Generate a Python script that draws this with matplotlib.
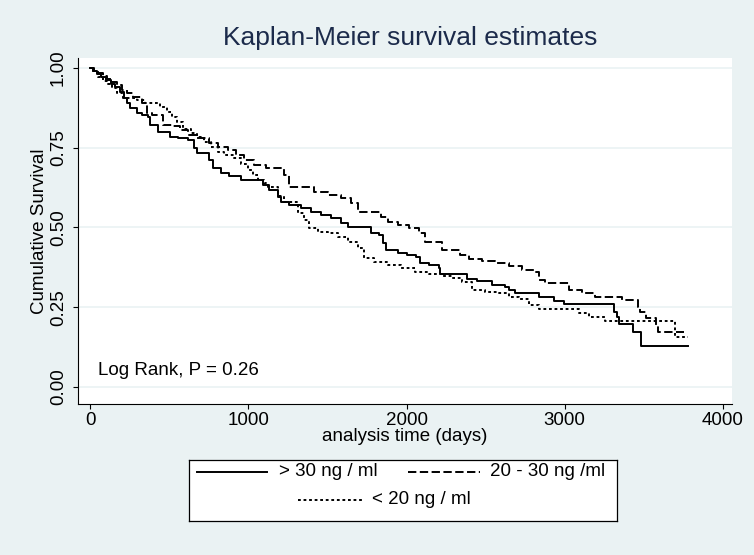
import numpy as np
import matplotlib
matplotlib.use("Agg")
import matplotlib.pyplot as plt
from matplotlib.lines import Line2D

plt.rcParams['font.family'] = ['Liberation Sans', 'DejaVu Sans']
plt.rcParams['lines.scale_dashes'] = False

# Kaplan-Meier steps: (time in days, survival after the step)
t_hi = [0, 20, 45, 70, 100, 130, 160, 190, 215, 235, 254, 300, 330, 368, 381, 432, 508, 559,
        622, 654, 679, 749, 775, 825, 876, 952, 1092, 1130, 1187, 1206, 1257, 1333, 1397,
        1460, 1524, 1587, 1632, 1778, 1829, 1854, 1873, 1949, 2000, 2063, 2083, 2140, 2203,
        2210, 2381, 2444, 2540, 2622, 2648, 2686, 2838, 2933, 2997, 3314, 3333, 3346, 3429,
        3479, 3780]
s_hi = [1.0, 0.99, 0.98, 0.972, 0.962, 0.95, 0.94, 0.925, 0.905, 0.89, 0.875, 0.86, 0.853,
        0.846, 0.82, 0.80, 0.785, 0.78, 0.774, 0.75, 0.733, 0.71, 0.686, 0.67, 0.66, 0.65,
        0.633, 0.617, 0.596, 0.58, 0.57, 0.56, 0.55, 0.54, 0.53, 0.514, 0.50, 0.483, 0.476,
        0.45, 0.43, 0.42, 0.414, 0.407, 0.39, 0.382, 0.373, 0.354, 0.339, 0.332, 0.32, 0.313,
        0.304, 0.295, 0.282, 0.27, 0.26, 0.235, 0.22, 0.197, 0.172, 0.13, 0.13]

t_mid = [0, 25, 50, 80, 110, 140, 170, 200, 235, 270, 330, 360, 390, 463, 527, 571, 616, 679,
         749, 806, 870, 921, 971, 1035, 1111, 1225, 1257, 1416, 1505, 1587, 1651, 1695, 1841,
         1886, 1949, 2013, 2076, 2114, 2222, 2337, 2394, 2476, 2559, 2648, 2730, 2813, 2838,
         2876, 3029, 3111, 3194, 3365, 3460, 3473, 3511, 3575, 3587, 3755]
s_mid = [1.0, 0.99, 0.985, 0.975, 0.965, 0.955, 0.945, 0.93, 0.92, 0.91, 0.89, 0.86, 0.853,
         0.82, 0.818, 0.806, 0.79, 0.78, 0.765, 0.752, 0.743, 0.727, 0.71, 0.696, 0.686, 0.665,
         0.627, 0.611, 0.602, 0.592, 0.577, 0.55, 0.533, 0.517, 0.508, 0.498, 0.483, 0.455,
         0.43, 0.414, 0.40, 0.395, 0.389, 0.38, 0.367, 0.36, 0.335, 0.326, 0.304, 0.295, 0.282,
         0.273, 0.25, 0.235, 0.216, 0.194, 0.172, 0.172]

t_lo = [0, 20, 50, 80, 110, 140, 170, 210, 298, 349, 444, 489, 521, 552, 590, 635, 679, 718,
        762, 806, 845, 908, 952, 997, 1029, 1060, 1098, 1124, 1187, 1225, 1314, 1352, 1384,
        1441, 1505, 1568, 1632, 1695, 1733, 1797, 1886, 1968, 2051, 2140, 2222, 2286, 2349,
        2413, 2495, 2584, 2648, 2711, 2775, 2838, 3092, 3156, 3257, 3695, 3780]
s_lo = [1.0, 0.99, 0.97, 0.96, 0.95, 0.937, 0.92, 0.905, 0.90, 0.89, 0.878, 0.862, 0.846,
        0.83, 0.81, 0.796, 0.784, 0.768, 0.752, 0.737, 0.727, 0.718, 0.70, 0.68, 0.665, 0.649,
        0.64, 0.627, 0.60, 0.58, 0.545, 0.523, 0.498, 0.486, 0.483, 0.47, 0.455, 0.436, 0.404,
        0.392, 0.382, 0.373, 0.36, 0.354, 0.348, 0.342, 0.33, 0.304, 0.298, 0.295, 0.282,
        0.276, 0.257, 0.245, 0.232, 0.22, 0.207, 0.157, 0.157]

labels = ["> 30 ng / ml", "20 - 30 ng /ml", "< 20 ng / ml"]
xticks = [0, 1000, 2000, 3000, 4000]
yticks = [0.0, 0.25, 0.5, 0.75, 1.0]

bg = "#EAF2F3"
fs = 13.5
solid = dict(color="black", lw=1.4, linestyle="-")
dashed = dict(color="black", lw=1.4, linestyle=(0, (6.0, 2.5)))
dotted = dict(color="black", lw=1.4, linestyle=(0, (2.0, 2.0)))

fig = plt.figure(figsize=(7.54, 5.55), dpi=100, facecolor=bg)
ax = fig.add_axes([78/754, 1-404/555, (732-78)/754, (404-58)/555])
ax.set_facecolor("white")

ax.step(t_hi, s_hi, where="post", **solid)
ax.step(t_mid, s_mid, where="post", **dashed)
ax.step(t_lo, s_lo, where="post", **dotted)

ax.set_xlim(-76, 4057)
ax.set_ylim(-0.053, 1.031)
ax.set_xticks(xticks)
ax.set_yticks(yticks)
ax.set_yticklabels([f"{v:.2f}" for v in yticks], rotation=90, va="center")
ax.tick_params(labelsize=fs, length=3.6, width=0.8, colors="black")
ax.tick_params(axis="x", pad=2)
ax.tick_params(axis="y", pad=4.5)
ax.yaxis.grid(True, color=bg, lw=1.2)
ax.set_axisbelow(True)
for side in ["top", "right"]:
    ax.spines[side].set_visible(False)
for side in ["left", "bottom"]:
    ax.spines[side].set_linewidth(0.8)

ax.set_xlabel("analysis time (days)", fontsize=fs)
ax.xaxis.set_label_coords(0.5, (404-428)/346)
ax.set_ylabel("Cumulative Survival", fontsize=fs, labelpad=1)
ax.text((98-78)/654, (404-375)/346, "Log Rank, P = 0.26", transform=ax.transAxes,
        fontsize=fs, ha="left", va="baseline")

fig.text(410/754, 1-38/555, "Kaplan-Meier survival estimates", fontsize=19,
         color="#1C2B4B", ha="center", va="center")

# legend box drawn by hand so the third entry sits centred on its own row
lg = fig.add_axes([189/754, 1-521/555, (617-189)/754, (521-460)/555])
lg.set_xlim(0, 428)
lg.set_ylim(0, 61)
lg.set_xticks([])
lg.set_yticks([])
lg.set_facecolor("white")
for sp in lg.spines.values():
    sp.set_linewidth(0.9)
lg.add_line(Line2D([8, 78], [49, 49], **solid))
lg.text(90, 49, labels[0], fontsize=fs, va="center")
lg.add_line(Line2D([219, 291], [49, 49], **dashed))
lg.text(301, 49, labels[1], fontsize=fs, va="center")
lg.add_line(Line2D([109, 173], [21, 21], **dotted))
lg.text(183, 21, labels[2], fontsize=fs, va="center")

fig.savefig("out.png", dpi=100, facecolor=bg)
